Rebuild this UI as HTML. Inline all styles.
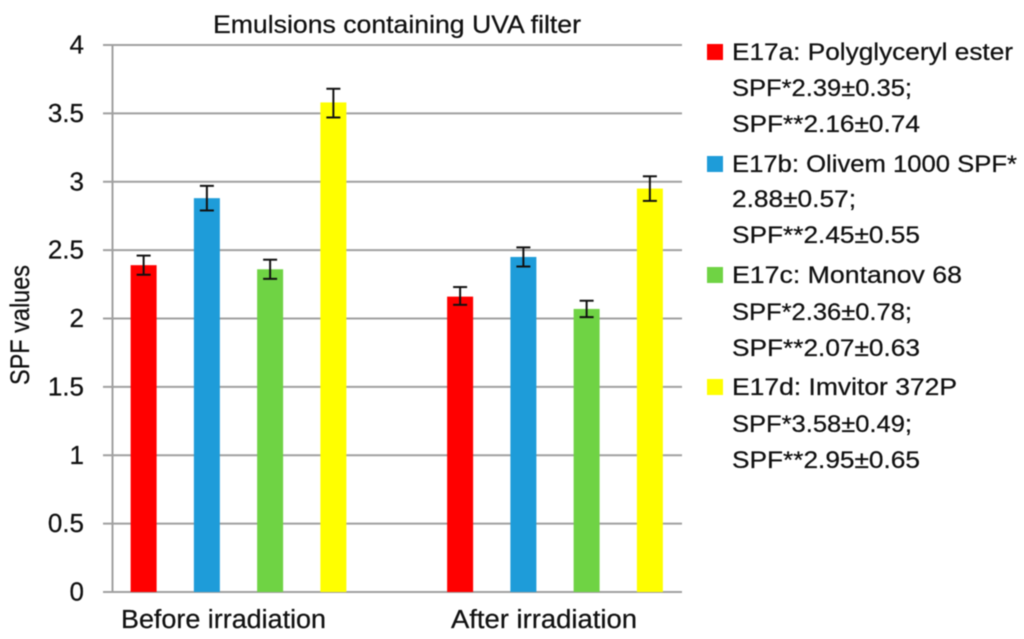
<!DOCTYPE html>
<html>
<head>
<meta charset="utf-8">
<style>
html,body{margin:0;padding:0;background:#fff;width:1024px;height:639px;overflow:hidden}
svg{display:block;filter:blur(0.4px)}
text{font-family:"Liberation Sans",sans-serif;fill:#111;stroke:#111;stroke-width:0.25px}
.tick{font-size:26px;text-anchor:end}
.leg{font-size:24px}
.cat{font-size:25.5px}
</style>
</head>
<body>
<svg id="chart" width="1024" height="639" viewBox="0 0 1024 639" xmlns="http://www.w3.org/2000/svg">
  <rect x="0" y="0" width="1024" height="639" fill="#fff"/>
  <text x="213" y="33" font-size="25" textLength="368" lengthAdjust="spacingAndGlyphs">Emulsions containing UVA filter</text>
  <text transform="translate(29,385) rotate(-90)" font-size="27" textLength="120" lengthAdjust="spacingAndGlyphs">SPF values</text>
  <g id="grid"></g>
  <g id="ticks"></g>
  <g id="bars"></g>
  <g id="errors"></g>
  <g id="cats">
    <text class="cat" x="121" y="628" textLength="205" lengthAdjust="spacingAndGlyphs">Before irradiation</text>
    <text class="cat" x="451" y="628" textLength="186" lengthAdjust="spacingAndGlyphs">After irradiation</text>
  </g>

  <g>
    <rect x="707" y="44" width="16" height="16" fill="#ff0000"/>
    <text class="leg" x="732" y="60" textLength="281" lengthAdjust="spacingAndGlyphs">E17a: Polyglyceryl ester</text>
    <text class="leg" x="732" y="96" textLength="180" lengthAdjust="spacingAndGlyphs">SPF*2.39±0.35;</text>
    <text class="leg" x="732" y="132" textLength="188" lengthAdjust="spacingAndGlyphs">SPF**2.16±0.74</text>

    <rect x="707" y="156" width="16" height="16" fill="#1e9cd9"/>
    <text class="leg" x="732" y="172" textLength="285" lengthAdjust="spacingAndGlyphs">E17b: Olivem 1000 SPF*</text>
    <text class="leg" x="732" y="207" textLength="124" lengthAdjust="spacingAndGlyphs">2.88±0.57;</text>
    <text class="leg" x="732" y="243" textLength="188" lengthAdjust="spacingAndGlyphs">SPF**2.45±0.55</text>

    <rect x="707" y="267" width="16" height="16" fill="#6fd344"/>
    <text class="leg" x="732" y="283" textLength="230" lengthAdjust="spacingAndGlyphs">E17c: Montanov 68</text>
    <text class="leg" x="732" y="320" textLength="180" lengthAdjust="spacingAndGlyphs">SPF*2.36±0.78;</text>
    <text class="leg" x="732" y="356" textLength="188" lengthAdjust="spacingAndGlyphs">SPF**2.07±0.63</text>

    <rect x="707" y="379" width="16" height="16" fill="#ffff00"/>
    <text class="leg" x="732" y="395" textLength="225" lengthAdjust="spacingAndGlyphs">E17d: Imvitor 372P</text>
    <text class="leg" x="732" y="432" textLength="180" lengthAdjust="spacingAndGlyphs">SPF*3.58±0.49;</text>
    <text class="leg" x="732" y="468" textLength="188" lengthAdjust="spacingAndGlyphs">SPF**2.95±0.65</text>
  </g>
</svg>
<script>
const categories = ["Before irradiation", "After irradiation"];
const seriesNames = ["e17a", "e17b", "e17c", "e17d"];
const seriesE17a = [2.39, 2.16];
const seriesE17b = [2.88, 2.45];
const seriesE17c = [2.36, 2.07];
const seriesE17d = [3.58, 2.95];
const upperE17a = [2.46, 2.23];
const upperE17b = [2.97, 2.52];
const upperE17c = [2.43, 2.13];
const upperE17d = [3.68, 3.04];
const lowerE17a = [2.32, 2.10];
const lowerE17b = [2.79, 2.38];
const lowerE17c = [2.29, 2.01];
const lowerE17d = [3.47, 2.86];
const yTicks = [0, 0.5, 1, 1.5, 2, 2.5, 3, 3.5, 4];

const NS = "http://www.w3.org/2000/svg";
const colors = ["#ff0000", "#1e9cd9", "#6fd344", "#ffff00"];
const values = [seriesE17a, seriesE17b, seriesE17c, seriesE17d];
const uppers = [upperE17a, upperE17b, upperE17c, upperE17d];
const lowers = [lowerE17a, lowerE17b, lowerE17c, lowerE17d];

const y0 = 592, yTop = 45, yMax = 4;
function yScale(v) { return y0 - (v / yMax) * (y0 - yTop); }
const groupStart = 238.5, groupStep = 316.5, barStep = 63.25, barWidth = 26;
function groupCenter(c) { return groupStart + c * groupStep; }
function barCenter(c, s) { return groupCenter(c) + (s - (seriesNames.length - 1) / 2) * barStep; }

function mk(tag, attrs, parent) {
  const el = document.createElementNS(NS, tag);
  for (const k in attrs) el.setAttribute(k, attrs[k]);
  parent.appendChild(el);
  return el;
}

const gridG = document.getElementById("grid");
const ticksG = document.getElementById("ticks");
yTicks.forEach(function (t) {
  const line = mk("line", { x1: 103, x2: 682, y1: yScale(t), y2: yScale(t), stroke: "#a0a0a0", "stroke-width": 2 }, gridG);
  
  
  const label = mk("text", { x: 84, y: yScale(t) + 8.5, class: "tick" }, ticksG);
  label.textContent = String(t);
  
  
});
const axis = mk("line", { x1: 112.5, x2: 112.5, y1: yTop - 1, y2: y0 + 1, stroke: "#a0a0a0", "stroke-width": 2 }, gridG);



const barsG = document.getElementById("bars");
const errG = document.getElementById("errors");
values.forEach(function (vals, s) {
  vals.forEach(function (v, c) {
    const cx = barCenter(c, s);
    const bar = mk("rect", { x: cx - barWidth / 2, y: yScale(v), width: barWidth, height: y0 - yScale(v), fill: colors[s] }, barsG);
    
    
    const yu = yScale(uppers[s][c]), yl = yScale(lowers[s][c]);
    const stem = mk("line", { x1: cx, x2: cx, y1: yu, y2: yl, stroke: "#111", "stroke-width": 2 }, errG);
    
    
    const capTop = mk("line", { x1: cx - 7, x2: cx + 7, y1: yu, y2: yu, stroke: "#111", "stroke-width": 2 }, errG);
    
    
    const capBot = mk("line", { x1: cx - 7, x2: cx + 7, y1: yl, y2: yl, stroke: "#111", "stroke-width": 2 }, errG);
    
    
  });
});
</script>
</body>
</html>
